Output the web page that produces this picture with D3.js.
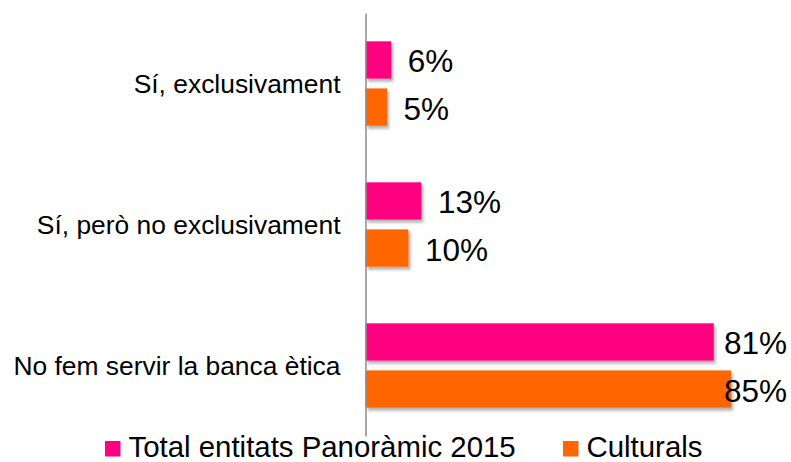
<!DOCTYPE html>
<html>
<head>
<meta charset="utf-8">
<script src="https://cdn.jsdelivr.net/npm/d3@7"></script>
<style>
    body { margin: 0; background: #fff; }
    svg text { font-family: Arial, "Liberation Sans", sans-serif; fill: #000; }
</style>
</head>
<body>
<div id="chart"></div>
<script>
// chart data
const categories = ['Sí, exclusivament', 'Sí, però no exclusivament', 'No fem servir la banca ètica'];
const seriesNames = ['Total entitats Panoràmic 2015', 'Culturals'];
const totalValues = [6, 13, 81];
const culturalValues = [5, 10, 85];
const seriesColors = ['#ff0080', '#ff6600'];

const width = 791;
const height = 462;

let rows = categories.map(function (c, i) {
    return { category: c, values: [totalValues[i], culturalValues[i]] };
});

let svg = d3.select('#chart').append('svg')
    .attr('width', width)
    .attr('height', height);

// soft shadow under the bars
let shadow = svg.append('defs').append('filter')
    .attr('id', 'shadow')
    .attr('x', '-10%').attr('y', '-20%')
    .attr('width', '130%').attr('height', '160%');
shadow.append('feDropShadow')
    .attr('dx', 2)
    .attr('dy', 3)
    .attr('stdDeviation', 1.8)
    .attr('flood-color', '#000')
    .attr('flood-opacity', 0.3);

let x = d3.scaleLinear()
    .domain([0, 100])
    .range([365.5, 795.5]);

let y = d3.scaleBand()
    .domain(categories)
    .range([13, 436])
    .padding(0);

let ySub = d3.scaleBand()
    .domain(d3.range(seriesNames.length))
    .range([0, y.bandwidth()])
    .paddingInner(0.208)
    .paddingOuter(0.601);

let groups = svg.append('g')
    .selectAll('g.group')
    .data(rows)
    .enter().append('g')
    .attr('class', 'group')
    .attr('transform', function (d) { return 'translate(0,' + y(d.category) + ')'; });

groups.selectAll('rect')
    .data(function (d) { return d.values; })
    .enter().append('rect')
    .attr('x', x(0))
    .attr('y', function (d, i) { return ySub(i); })
    .attr('width', function (d) { return x(d) - x(0); })
    .attr('height', ySub.bandwidth())
    .attr('fill', function (d, i) { return seriesColors[i]; })
    .attr('filter', 'url(#shadow)');

// value labels, pushed back inside the frame when they would overflow
groups.selectAll('text.value')
    .data(function (d) { return d.values; })
    .enter().append('text')
    .attr('class', 'value')
    .attr('y', function (d, i) { return ySub(i) + ySub.bandwidth() / 2 + 12.5; })
    .style('font-size', '31.5px')
    .text(function (d) { return d + '%'; })
    .attr('x', function (d) {
        let w = this.getComputedTextLength();
        return Math.min(x(d) + 16.5, width - 4 - w);
    });

// category axis
let yAxis = svg.append('g')
    .attr('transform', 'translate(' + x(0) + ',0)')
    .call(d3.axisLeft(y).tickSize(0).tickPadding(25));
yAxis.select('.domain')
    .attr('stroke', '#8c8c8c')
    .attr('stroke-width', 1.5);
yAxis.selectAll('.tick text')
    .attr('dy', '0.36em')
    .style('font-size', '26.4px')
    .style('font-family', 'Arial, "Liberation Sans", sans-serif');

// legend
let legendX = [105, 563];
let legend = svg.append('g')
    .selectAll('g.legend')
    .data(seriesNames)
    .enter().append('g')
    .attr('class', 'legend')
    .attr('transform', function (d, i) { return 'translate(' + legendX[i] + ',441)'; });

legend.append('rect')
    .attr('width', 15.5)
    .attr('height', 15.5)
    .attr('fill', function (d, i) { return seriesColors[i]; });

legend.append('text')
    .attr('x', 23.5)
    .attr('y', 16)
    .style('font-size', '29.4px')
    .text(function (d) { return d; });
</script>
</body>
</html>
